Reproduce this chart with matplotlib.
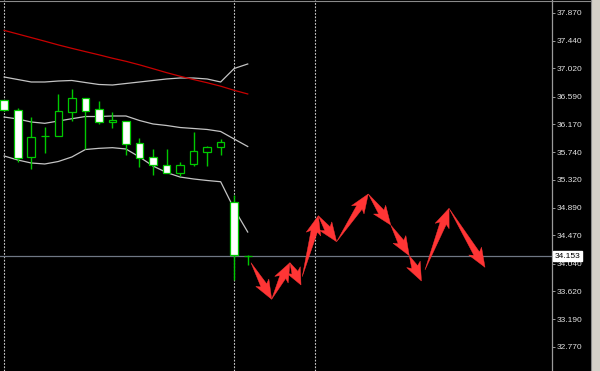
import matplotlib
matplotlib.use("Agg")
import numpy as np
import matplotlib.pyplot as plt
from matplotlib.patches import Rectangle, Polygon
from matplotlib.lines import Line2D
import matplotlib.transforms as mtransforms

# ---- data ----
opens  = [36.53, 36.38, 35.66, 35.98, 35.99, 36.35, 36.56, 36.40, 36.20, 36.21,
          35.88, 35.66, 35.55, 35.42, 35.56, 35.75, 35.82, 34.98, 34.16]
highs  = [36.54, 36.41, 36.27, 36.13, 36.63, 36.70, 36.57, 36.52, 36.36, 36.22,
          35.95, 35.79, 35.79, 35.59, 36.05, 35.84, 35.94, 35.09, 34.17]
lows   = [36.37, 35.59, 35.49, 35.73, 35.98, 36.22, 35.79, 36.17, 36.11, 35.69,
          35.52, 35.39, 35.42, 35.37, 35.53, 35.53, 35.69, 33.79, 34.02]
closes = [36.38, 35.65, 35.97, 35.99, 36.37, 36.56, 36.37, 36.20, 36.23, 35.87,
          35.65, 35.55, 35.43, 35.55, 35.76, 35.82, 35.89, 34.17, 34.153]

bb_upper = [36.888, 36.850, 36.812, 36.812, 36.827, 36.835, 36.804, 36.774, 36.766, 36.789,
            36.812, 36.835, 36.858, 36.873, 36.873, 36.858, 36.812, 37.018, 37.087]
bb_middle = [36.277, 36.247, 36.201, 36.181, 36.216, 36.251, 36.285, 36.285, 36.293, 36.293,
             36.224, 36.171, 36.148, 36.117, 36.102, 36.087, 36.056, 35.941, 35.827]
bb_lower = [35.682, 35.621, 35.575, 35.560, 35.598, 35.667, 35.781, 35.799, 35.809, 35.789,
            35.667, 35.529, 35.430, 35.361, 35.331, 35.308, 35.289, 34.873, 34.521]
ma_red = [37.600, 37.545, 37.490, 37.435, 37.378, 37.326, 37.276, 37.227, 37.175, 37.128,
          37.074, 37.015, 36.955, 36.900, 36.849, 36.801, 36.748, 36.685, 36.629]

# forecast arrows: start/end in bar units and price
arrow_x0 = [18.24, 19.77, 21.12, 22.03, 23.22, 24.57, 26.91, 28.57, 29.94, 31.10, 32.88]
arrow_y0 = [34.053, 33.494, 34.053, 33.839, 34.770, 34.373, 35.102, 34.628, 34.160, 33.941, 34.883]
arrow_x1 = [19.77, 21.12, 21.94, 23.22, 24.57, 26.91, 28.57, 29.94, 30.84, 32.88, 35.54]
arrow_y1 = [33.494, 34.053, 33.712, 34.770, 34.373, 35.102, 34.628, 34.160, 33.773, 34.883, 33.982]

separators = [0, 17, 23]
current_price = 34.153
tick_values = [37.870, 37.440, 37.020, 36.590, 36.170, 35.740, 35.320,
               34.890, 34.470, 34.040, 33.620, 33.190, 32.770]
tick_labels = ["37.870", "37.440", "37.020", "36.590", "36.170", "35.740", "35.320",
               "34.890", "34.470", "34.040", "33.620", "33.190", "32.770"]

# ---- figure ----
W, H = 600, 371
fig = plt.figure(figsize=(W / 100, H / 100), dpi=100, facecolor="black")
ax = fig.add_axes([0, 0, 552 / W, 1])
ax.set_facecolor("black")
ax.set_xlim(-0.31, 40.49)
ax.set_ylim(32.399, 38.064)

GREEN = "#00c800"

# separators
for s in separators:
    ax.axvline(s, color="#c8c8c8", lw=0.8, ls=(0, (1.6, 1.4)), zorder=1)

# current price line
ax.axhline(current_price, color="#6f7784", lw=0.9, zorder=1.5)

# bands + MA
xs = list(range(len(closes)))
ax.plot(xs, bb_upper, color="#c4c4c4", lw=0.9, zorder=2)
ax.plot(xs, bb_middle, color="#c4c4c4", lw=0.9, zorder=2)
ax.plot(xs, bb_lower, color="#c4c4c4", lw=0.9, zorder=2)
ax.plot(xs, ma_red, color="#c80000", lw=0.9, zorder=2)

# candles
bw = 0.56
for i, (o, h, l, c) in enumerate(zip(opens, highs, lows, closes)):
    ax.plot([i, i], [l, h], color=GREEN, lw=1.0, zorder=3, solid_capstyle="butt")
    bull = c >= o
    bottom = min(o, c)
    height = abs(c - o)
    ax.add_patch(Rectangle((i - bw / 2, bottom), bw, height,
                           facecolor="black" if bull else "white",
                           edgecolor=GREEN, lw=0.9, zorder=4))

# arrows: tapered shaft + head, sized in pixels, placed through the data transform
def arrow_patch(x0, y0, x1, y1, head_len=16.0, head_w=15.0, tail_w=6.5, sweep=3.0):
    p0 = ax.transData.transform((x0, y0))
    p1 = ax.transData.transform((x1, y1))
    d = p1 - p0
    L = np.hypot(*d)
    u = d / L
    n = np.array([-u[1], u[0]])
    hl = min(head_len, 0.55 * L)
    base = p1 - u * hl
    verts = [p0,
             base + n * tail_w / 2,
             base - u * sweep + n * head_w / 2,
             p1,
             base - u * sweep - n * head_w / 2,
             base - n * tail_w / 2]
    data_verts = ax.transData.inverted().transform(np.array(verts))
    return Polygon(data_verts, closed=True, facecolor="#ff3535", edgecolor="#ff3535",
                   lw=0.3, zorder=5)

for x0, y0, x1, y1 in zip(arrow_x0, arrow_y0, arrow_x1, arrow_y1):
    ax.add_patch(arrow_patch(x0, y0, x1, y1))

# axes styling
for sp in ["left", "top", "bottom"]:
    ax.spines[sp].set_visible(False)
ax.spines["right"].set_color("#9a9a9a")
ax.spines["right"].set_linewidth(0.9)
ax.set_xticks([])
ax.yaxis.tick_right()
ax.set_yticks(tick_values)
ax.set_yticklabels(tick_labels)
ax.tick_params(axis="y", direction="out", length=2.2, width=0.7, color="#9a9a9a",
               labelcolor="#e0e0e0", labelsize=6, pad=1.5)
for t in ax.get_yticklabels():
    t.set_family("Liberation Sans")

# current price label
trans = mtransforms.blended_transform_factory(ax.transAxes, ax.transData)
ax.text(1.0 + 2.5 / 552, current_price, "34.153", transform=trans, ha="left", va="center",
        fontsize=6, family="Liberation Sans", color="black", zorder=10, clip_on=False,
        bbox=dict(boxstyle="square,pad=0.15", facecolor="white", edgecolor="white"))

# window frame
fig.add_artist(Rectangle((591 / W, 0), 9 / W, 1, transform=fig.transFigure,
                         facecolor="#d4d0c8", edgecolor="none"))
fig.add_artist(Line2D([590.5 / W, 590.5 / W], [0, 1], transform=fig.transFigure,
                      color="#8a8a8a", lw=0.8))
fig.add_artist(Line2D([0, 590.5 / W], [1 - 0.5 / H, 1 - 0.5 / H], transform=fig.transFigure,
                      color="#8a8a8a", lw=0.8))

fig.savefig("out.png", dpi=100, facecolor="black")
